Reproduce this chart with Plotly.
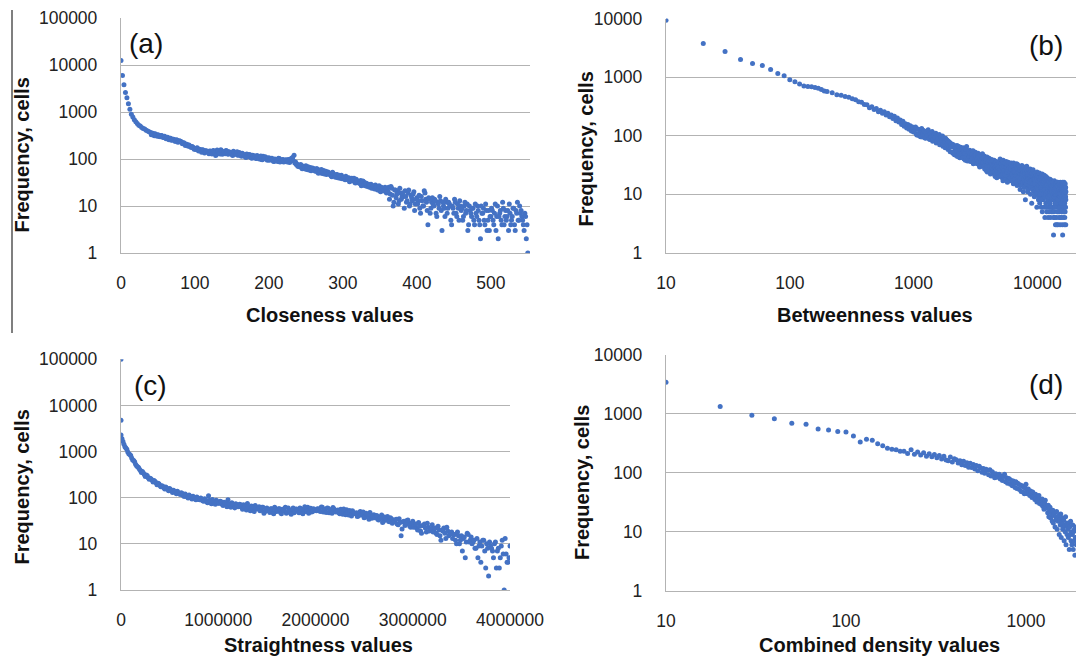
import plotly.graph_objects as go

W, H = 1076, 658

# ---------------- data ----------------
# (a) Closeness values
a_x = list(range(0, 551, 2))
a_y = [12400, 6000, 3800, 2600, 2000, 1500, 1150, 900, 780, 680, 620,
       570, 520, 505, 470, 445, 435, 410, 395, 380, 365,
       352, 336, 345, 318, 328, 300, 315, 298, 292, 285,
       284, 266, 276, 255, 262, 258, 240, 250, 232, 238,
       226, 218, 212, 205, 196, 198, 182, 184, 172, 168,
       170, 155, 162, 150, 158, 142, 150, 145, 138, 148,
       132, 148, 140, 118, 155, 136, 128, 150, 142, 134,
       152, 130, 142, 136, 124, 146, 128, 134, 120, 138,
       118, 132, 122, 112, 128, 116, 124, 106, 120, 114,
       104, 118, 108, 112, 98, 114, 102, 108, 94, 106,
       98, 104, 90, 100, 94, 88, 102, 92, 96, 86,
       94, 88, 98, 84, 92, 108, 120, 86, 78, 72,
       74, 66, 70, 62, 72, 64, 58, 66, 60, 63,
       56, 62, 52, 58, 54, 49, 57, 51, 47, 53,
       48, 44, 52, 45, 41, 47, 43, 39, 45, 41,
       38, 43, 36, 40, 34, 39, 35, 32, 37, 33,
       31, 35, 29, 33, 27, 30, 28, 25, 29, 26,
       24, 28, 23, 26, 21, 25, 22, 24, 20, 23,
       25, 18, 24, 10, 22, 15, 21, 13, 19, 16,
       16, 21, 12, 19, 10, 17, 13, 20, 11, 15,
       13, 9, 16, 10, 21, 14, 8, 15, 7, 12,
       11, 14, 7, 12, 9, 13, 3, 10, 6, 12,
       9, 11, 5, 10, 7, 12, 6, 9, 13, 8,
       5, 10, 7, 11, 4, 8, 6, 9, 4, 7,
       10, 5, 2, 7, 9, 4, 8, 5, 3, 6,
       8, 4, 11, 6, 2, 7, 5, 12, 4, 8,
       6, 3, 7, 5, 9, 4, 8, 12, 5, 7,
       6, 4, 7, 2, 1]
a_x_mid = list(range(41, 360, 2))
a_y_mid = [330, 352, 312, 335, 305, 322, 296, 318, 288, 305,
           270, 292, 258, 276, 250, 262, 240, 256, 228, 246,
           236, 210, 222, 194, 206, 186, 190, 176, 180, 162,
           160, 174, 148, 160, 140, 156, 134, 150, 146, 130,
           146, 128, 152, 136, 124, 144, 132, 158, 126, 140,
           130, 148, 126, 140, 132, 118, 138, 126, 142, 122,
           130, 114, 126, 120, 108, 124, 112, 118, 104, 116,
           116, 102, 112, 100, 116, 96, 106, 112, 98, 104,
           94, 102, 96, 88, 98, 92, 104, 86, 94, 98,
           90, 96, 86, 94, 100, 104, 92, 82, 76, 70,
           68, 76, 62, 70, 66, 60, 68, 62, 56, 64,
           60, 55, 62, 50, 56, 60, 52, 48, 55, 50,
           50, 46, 42, 49, 44, 46, 40, 45, 42, 38,
           40, 36, 41, 38, 33, 37, 35, 39, 31, 35,
           33, 30, 27, 34, 29, 31, 26, 29, 28, 24,
           27, 23, 25, 22, 27, 20, 24, 21, 25, 19]
a_x_tail = list(range(361, 550, 2))
a_y_tail = [20, 14, 26, 17, 12, 22, 18, 11, 24, 14,
            19, 9, 16, 13, 22, 11, 15, 18, 8, 14,
            11, 17, 7, 13, 10, 19, 12, 4, 14, 9,
            15, 10, 13, 6, 11, 16, 8, 12, 9, 14,
            7, 12, 10, 4, 9, 14, 7, 11, 5, 10,
            9, 6, 12, 8, 3, 10, 7, 9, 5, 11,
            6, 8, 4, 10, 7, 5, 11, 3, 8, 6,
            9, 5, 7, 3, 10, 6, 8, 4, 9, 6,
            5, 8, 11, 4, 6, 9, 3, 7, 5, 10,
            8, 5, 3, 6, 4]

# (b) Betweenness values
b_x = (list(range(10, 201, 10)) + list(range(220, 1001, 20)) +
       list(range(1025, 2001, 25)) + list(range(2040, 5001, 40)) +
       list(range(5050, 10001, 50)) + list(range(10050, 17001, 50)))
b_y = [9300, 3750, 2740, 2000, 1700, 1580, 1340, 1150, 1050, 900,
       830, 760, 700, 690, 680, 660, 645, 610, 580, 565,
       540, 500, 490, 465, 450, 425, 410, 380, 370, 340,
       335, 300, 310, 280, 290, 255, 270, 240, 255, 225,
       240, 210, 225, 195, 215, 180, 200, 170, 185, 155,
       175, 145, 160, 135, 155, 128, 148, 120, 140, 115,
       135, 108, 130, 100, 125, 112, 95, 122, 104, 90,
       118, 98, 110, 86, 106, 92, 80, 104, 88, 96,
       75, 100, 82, 90, 70, 94, 78, 85, 66, 82,
       74, 62, 84, 68, 76, 58, 72, 64, 53, 68,
       72, 50, 66, 56, 46, 68, 52, 60, 42, 63,
       55, 46, 62, 40, 57, 49, 65, 37, 52, 45,
       56, 36, 50, 43, 54, 33, 47, 40, 52, 38,
       45, 34, 50, 39, 31, 47, 36, 42, 30, 49,
       38, 32, 45, 27, 40, 34, 25, 43, 30, 37,
       29, 41, 24, 36, 31, 27, 39, 23, 34, 30,
       26, 38, 28, 20, 33, 25, 36, 22, 31, 27,
       33, 21, 29, 25, 40,
       35, 22, 30, 19, 27, 38, 24, 32, 20, 28,
       25, 36, 18, 28, 22, 33, 19, 30, 26, 17,
       29, 23, 34, 18, 26, 21, 31, 15, 24, 28,
       20, 30, 17, 25, 22, 33, 14, 27, 19, 23,
       29, 16, 22, 26, 12, 28, 20, 24, 18, 31,
       15, 21, 27, 11, 23, 19, 28, 17, 20, 8,
       24, 14, 19, 30, 16, 22, 11, 25, 18, 21,
       13, 23, 17, 20, 27, 10, 18, 22, 15, 7,
       21, 16, 19, 12, 24, 17, 14, 20, 9, 16,
       20, 11, 18, 15, 22, 13, 16, 6, 19, 14,
       18, 11, 15, 8, 20, 13, 10, 16, 7, 14,
       12, 17, 9, 15, 6, 19, 11, 13, 5, 16,
       10, 17, 8, 14, 12, 18, 6, 15, 11, 4,
       13, 9, 16, 7, 17, 11, 14, 5, 12, 10,
       16, 8, 13, 4, 15, 10, 12, 6, 18, 9,
       11, 14, 7, 16, 4, 12, 9, 17, 5, 13,
       10, 15, 8, 12, 5, 14, 6, 16, 9, 2,
       13, 5, 15, 8, 11, 4, 14, 7, 10, 3,
       12, 6, 15, 9, 4, 13, 8, 11, 5, 14,
       7, 10, 3, 12, 9, 15, 6, 11, 4, 13,
       8, 14, 5, 10, 3, 12, 7, 11, 9, 4,
       13, 6, 10, 5, 12, 8, 14, 3, 11, 2,
       9, 12, 4, 10, 6, 13, 5, 11, 7, 3,
       12, 8, 4, 10, 5, 13, 6, 9, 3, 11]
b_x_dense = (list(range(1012, 2000, 25)) + list(range(2020, 5000, 40)) +
             list(range(5025, 10000, 50)) + list(range(10025, 17000, 50)))
b_y_dense = [118, 140, 102, 128, 110, 96, 132, 106, 120, 92,
             114, 100, 126, 88, 108, 96, 118, 84, 102, 92,
             110, 80, 98, 88, 104, 76, 94, 84, 98, 72,
             88, 80, 90, 68, 84, 74, 80, 64, 76, 70,
             64, 52, 70, 47, 60, 55, 44, 66, 50, 58,
             48, 60, 42, 54, 50, 38, 58, 46, 40, 53,
             44, 50, 37, 47, 41, 55, 35, 45, 39, 48,
             40, 33, 46, 37, 43, 29, 41, 36, 44, 32,
             35, 42, 30, 38, 27, 36, 40, 31, 24, 35,
             33, 26, 38, 30, 22, 35, 28, 33, 25, 37,
             30, 24, 34, 21, 29, 35, 26, 19, 32, 24,
             28, 35, 20, 30, 24,
             26, 33, 21, 29, 36, 17, 25, 30, 23, 34,
             21, 29, 24, 32, 16, 26, 35, 20, 28, 23,
             19, 27, 32, 22, 17, 30, 25, 20, 34, 24,
             27, 18, 24, 31, 21, 16, 28, 23, 32, 19,
             24, 20, 30, 17, 26, 22, 14, 25, 19, 27,
             22, 26, 16, 24, 29, 18, 13, 23, 25, 16,
             20, 27, 15, 22, 17, 25, 20, 12, 23, 18,
             26, 19, 14, 21, 16, 24, 19, 13, 25, 20,
             17, 23, 12, 20, 26, 15, 22, 18, 11, 21,
             18, 15, 23, 10, 17, 21, 12, 19, 24, 13,
             15, 21, 12, 17, 9, 19, 14, 23, 11, 16,
             18, 10, 15, 20, 13, 8, 17, 12, 22, 14,
             16, 13, 19, 10, 15, 12, 17, 21, 9, 14,
             12, 18, 15, 10, 20, 14, 6, 16, 13, 19,
             14, 11, 17, 12, 9, 15, 18, 13, 5, 16,
             15, 10, 13, 18, 11, 6, 14, 16, 12, 9,
             12, 17, 11, 14, 6, 16, 13, 10, 15, 4,
             16, 11, 14, 9, 17, 12, 6, 15, 10, 13,
             10, 16, 13, 7, 15, 11, 14, 3, 12, 16,
             14, 11, 16, 8, 13, 5, 15, 10, 12, 6,
             12, 15, 10, 6, 14, 9, 16, 11, 4, 13,
             10, 14, 7, 12, 15, 9, 5, 13, 11, 16,
             14, 8, 12, 15, 6, 11, 13, 9, 16, 5,
             10, 14, 7, 12, 9, 15, 6, 11, 13, 8]

# (c) Straightness values
c_x = [0, 0, 0] + list(range(20000, 4000001, 20000))
c_y = [100000, 4800, 2300,
       1650, 1280, 1120, 900, 820, 660, 600, 490, 450, 390,
       370, 320, 310, 270, 265, 240, 235, 210, 205, 185,
       182, 165, 170, 150, 158, 140, 145, 130, 138, 122,
       128, 112, 120, 105, 115, 100, 108, 96, 104, 92,
       98, 86, 95, 82, 110, 80, 92, 78, 88, 76,
       84, 72, 80, 70, 90, 66, 78, 68, 74, 64,
       72, 62, 70, 58, 75, 60, 66, 55, 68, 57,
       64, 54, 62, 50, 60, 52, 58, 48, 62, 50,
       58, 48, 56, 52, 46, 60, 50, 55, 47, 57,
       52, 60, 48, 56, 50, 62, 54, 49, 58, 53,
       58, 52, 63, 49, 56, 60, 47, 54, 61, 51,
       53, 47, 56, 44, 50, 55, 42, 49, 52, 46,
       47, 40, 50, 43, 37, 46, 41, 48, 36, 43,
       40, 34, 38, 42, 31, 36, 39, 30, 35, 33,
       33, 27, 35, 15, 30, 25, 32, 28, 23, 31,
       26, 22, 29, 19, 25, 27, 18, 23, 21, 26,
       21, 17, 24, 15, 20, 22, 13, 19, 16, 18,
       16, 12, 18, 10, 15, 13, 5, 17, 11, 14,
       11, 8, 13, 9, 4, 12, 7, 10, 2, 9,
       7, 10, 3, 8, 5, 12, 1, 6, 4, 9]
c_x_odd = list(range(10000, 3990001, 20000))
c_y_odd = [1900, 1450, 1200, 980, 860, 730, 640, 530, 470, 415,
           350, 345, 290, 300, 250, 255, 220, 225, 190, 200,
           172, 178, 155, 162, 142, 150, 130, 136, 122, 128,
           118, 124, 106, 112, 98, 108, 94, 100, 90, 97,
           90, 94, 84, 90, 78, 88, 74, 84, 72, 82,
           76, 82, 68, 78, 64, 74, 62, 72, 60, 70,
           64, 70, 56, 66, 54, 64, 52, 62, 50, 60,
           58, 52, 62, 46, 56, 54, 48, 58, 45, 55,
           52, 58, 45, 54, 62, 48, 53, 44, 60, 50,
           56, 47, 58, 45, 64, 51, 46, 59, 50, 55,
           52, 57, 50, 62, 54, 48, 59, 55, 46, 57,
           49, 54, 45, 51, 57, 43, 48, 53, 40, 47,
           45, 39, 47, 42, 49, 38, 44, 34, 42, 39,
           37, 41, 33, 36, 29, 38, 34, 31, 37, 28,
           30, 34, 26, 29, 21, 31, 27, 33, 24, 28,
           23, 27, 20, 24, 17, 25, 22, 28, 19, 21,
           18, 22, 16, 20, 12, 19, 17, 23, 15, 17,
           13, 16, 10, 15, 12, 7, 14, 11, 16, 12,
           10, 12, 8, 5, 11, 9, 12, 3, 8, 11,
           8, 5, 11, 7, 3, 9, 6, 13, 4, 5]

# (d) Combined density values
d_x = list(range(10, 1901, 10))
d_y = [3400, 1320, 940, 820, 690, 660, 550, 530, 500, 490,
       420, 330, 370, 355, 310, 285, 260, 250, 245, 230,
       232, 212, 244, 206, 225, 200, 218, 190, 210, 186,
       204, 180, 196, 170, 190, 164, 160, 184, 152, 172,
       166, 146, 160, 136, 156, 132, 148, 124, 144, 122,
       138, 116, 132, 108, 128, 120, 102, 118, 98, 114,
       110, 92, 112, 88, 104, 96, 82, 96, 84, 86,
       94, 78, 88, 74, 86, 94, 70, 82, 66, 80,
       78, 64, 74, 60, 72, 66, 56, 70, 54, 66,
       64, 52, 62, 48, 60, 47, 57, 44, 55, 64,
       50, 44, 53, 46, 41, 49, 45, 38, 47, 42,
       40, 35, 43, 37, 32, 39, 34, 41, 30, 36,
       33, 29, 36, 27, 31, 24, 30, 34, 26, 28,
       25, 21, 28, 18, 24, 26, 17, 22, 20, 15,
       23, 14, 19, 21, 12, 18, 16, 22, 11, 17,
       15, 19, 9, 16, 13, 20, 8, 14, 17, 11,
       12, 16, 7, 13, 10, 18, 6, 14, 9, 12,
       11, 8, 14, 5, 12, 9, 15, 7, 10, 6,
       9, 13, 5, 10, 7, 11, 4, 8, 12, 6]

for xs, ys in [(a_x, a_y), (a_x_mid, a_y_mid), (a_x_tail, a_y_tail),
               (b_x, b_y), (b_x_dense, b_y_dense),
               (c_x, c_y), (c_x_odd, c_y_odd), (d_x, d_y)]:
    assert len(xs) == len(ys), (len(xs), len(ys))

freq_ticks_5 = [1, 10, 100, 1000, 10000, 100000]
freq_ticks_4 = [1, 10, 100, 1000, 10000]
a_ticks = [0, 100, 200, 300, 400, 500]
b_ticks = [10, 100, 1000, 10000]
c_ticks = [0, 1000000, 2000000, 3000000, 4000000]
d_ticks = [10, 100, 1000]

title_y = "Frequency, cells"
titles_x = ["Closeness values", "Betweenness values", "Straightness values", "Combined density values"]
panel_tags = ["(a)", "(b)", "(c)", "(d)"]

# ---------------- style / layout ----------------
BLUE = "#4472c4"
GRID = "#b3b3b3"
FAM = "Liberation Sans, Arial, sans-serif"
TICKFONT = dict(family=FAM, size=17.5, color="#222222")
TITLEFONT = dict(family=FAM, size=20, color="#111111")


def px_x(p):
    return p / W


def px_y(p):
    return 1 - p / H


fig = go.Figure()
marker = dict(color=BLUE, size=5, line=dict(width=0))
series = [(a_x, a_y, "x", "y"), (a_x_mid, a_y_mid, "x", "y"), (a_x_tail, a_y_tail, "x", "y"),
          (b_x, b_y, "x2", "y2"), (b_x_dense, b_y_dense, "x2", "y2"),
          (c_x, c_y, "x3", "y3"), (c_x_odd, c_y_odd, "x3", "y3"),
          (d_x, d_y, "x4", "y4")]
for xs, ys, xa, ya in series:
    fig.add_trace(go.Scatter(x=xs, y=ys, mode="markers", marker=marker,
                             xaxis=xa, yaxis=ya, hoverinfo="x+y"))


def xax(dom, typ, rng, ticks, anchor):
    return dict(domain=[px_x(dom[0]), px_x(dom[1])], type=typ, range=rng,
                tickvals=ticks, ticktext=[str(t) for t in ticks],
                showgrid=False, zeroline=False, showline=True, linecolor=GRID, linewidth=1.3,
                ticks="outside", ticklen=14, tickcolor="rgba(0,0,0,0)",
                tickfont=TICKFONT, anchor=anchor, automargin=False)


def yax(dom, rng, ticks, anchor):
    return dict(domain=[px_y(dom[1]), px_y(dom[0])], type="log", range=rng,
                tickvals=ticks, ticktext=[str(t) for t in ticks],
                showgrid=True, gridcolor=GRID, gridwidth=1.3,
                zeroline=False, showline=True, linecolor=GRID, linewidth=1.3,
                ticks="outside", ticklen=19, tickcolor="rgba(0,0,0,0)",
                tickfont=TICKFONT, anchor=anchor, automargin=False)


fig.update_layout(
    width=W, height=H, margin=dict(l=0, r=0, t=0, b=0, pad=0), autosize=False,
    paper_bgcolor="white", plot_bgcolor="white", showlegend=False,
    xaxis=xax((121, 530), "linear", [0, 553], a_ticks, "y"),
    yaxis=yax((18, 253), [0, 5], freq_ticks_5, "x"),
    xaxis2=xax((666, 1076), "log", [1, 4.312], b_ticks, "y2"),
    yaxis2=yax((18.5, 252.7), [0, 4], freq_ticks_4, "x2"),
    xaxis3=xax((121, 510), "linear", [0, 4000000], c_ticks, "y3"),
    yaxis3=yax((359.3, 590), [0, 5], freq_ticks_5, "x3"),
    xaxis4=xax((666, 1076), "log", [1, 3.278], d_ticks, "y4"),
    yaxis4=yax((354.7, 590.7), [0, 4], freq_ticks_4, "x4"),
)

ann = []
ytitle_pos = [(21.5, 155), (585.5, 149), (21.5, 487), (582, 483)]
xtitle_pos = [(330, 315), (875, 315), (318.5, 645), (879, 645)]
tag_pos = [(146, 43), (1046, 45), (150, 385), (1046, 384)]
for i in range(4):
    ann.append(dict(x=px_x(ytitle_pos[i][0]), y=px_y(ytitle_pos[i][1]), xref="paper", yref="paper",
                    text="<b>%s</b>" % title_y, textangle=-90, showarrow=False,
                    font=TITLEFONT, xanchor="center", yanchor="middle"))
    ann.append(dict(x=px_x(xtitle_pos[i][0]), y=px_y(xtitle_pos[i][1]), xref="paper", yref="paper",
                    text="<b>%s</b>" % titles_x[i], showarrow=False,
                    font=TITLEFONT, xanchor="center", yanchor="middle"))
    ann.append(dict(x=px_x(tag_pos[i][0]), y=px_y(tag_pos[i][1]), xref="paper", yref="paper",
                    text=panel_tags[i], showarrow=False,
                    font=dict(family=FAM, size=28, color="#111111"),
                    xanchor="center", yanchor="middle"))
fig.update_layout(annotations=ann)

# thin vertical rule at the far left of the original figure
fig.add_shape(type="line", xref="paper", yref="paper",
              x0=px_x(12), x1=px_x(12), y0=px_y(10), y1=px_y(333),
              line=dict(color="#555555", width=1.5))

fig.write_html("out.html", config={"displayModeBar": False},
               post_script="document.body.style.margin='0px';")
